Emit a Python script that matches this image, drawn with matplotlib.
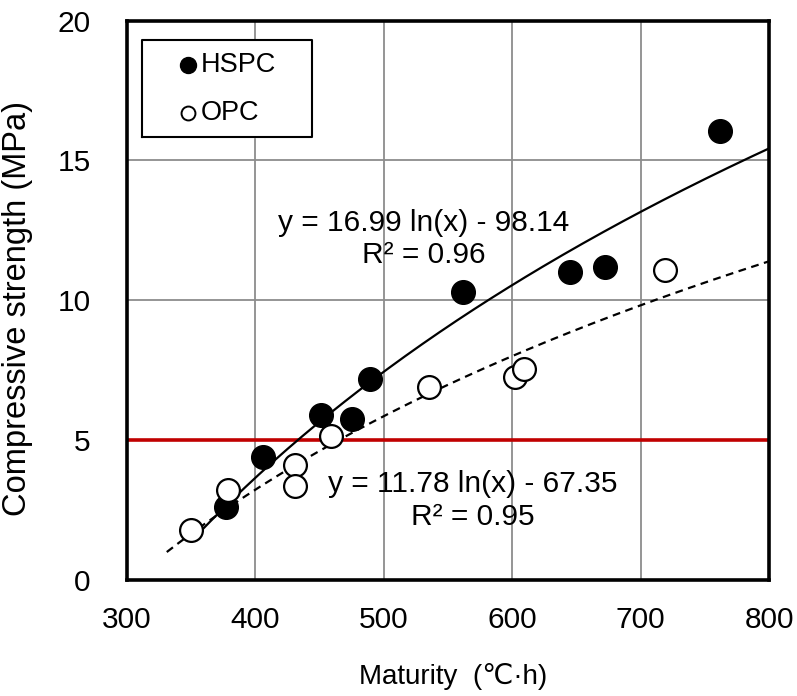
import numpy as np
import matplotlib.pyplot as plt

plt.rcParams['font.family'] = ['Liberation Sans', 'DejaVu Sans']

# Data
hspc_x = [377, 406, 451, 475, 489, 562, 645, 672, 762]
hspc_y = [2.6, 4.4, 5.9, 5.75, 7.2, 10.3, 11.0, 11.2, 16.05]

opc_x = [350, 379, 431, 431, 459, 535, 602, 609, 719]
opc_y = [1.8, 3.2, 4.1, 3.35, 5.15, 6.9, 7.25, 7.55, 11.1]

# Log trend lines (from labels in the chart)
hspc_a, hspc_b = 16.99, -98.14
opc_a, opc_b = 11.78, -67.35
hspc_range = (356, 800)
opc_range = (331, 800)

limit_strength = 5

fig = plt.figure(figsize=(7.97, 6.96), dpi=100)
ax = fig.add_axes([0.1593, 0.1667, 0.8056, 0.8036])

# Trend lines
xs = np.linspace(hspc_range[0], hspc_range[1], 200)
ax.plot(xs, hspc_a * np.log(xs) + hspc_b, color='black', lw=1.6, zorder=3)
xs = np.linspace(opc_range[0], opc_range[1], 200)
ax.plot(xs, opc_a * np.log(xs) + opc_b, color='black', lw=1.6,
        linestyle=(0, (3.5, 2.5)), zorder=3)

# Red reference line
ax.axhline(limit_strength, color='#c00000', lw=2.6, zorder=2)

# Data points
ax.scatter(hspc_x, hspc_y, s=290, color='black', zorder=4)
ax.scatter(opc_x, opc_y, s=270, facecolor='white', edgecolor='black',
           linewidth=1.6, zorder=4)

# Equations
ax.text(531, 12.2, 'y = 16.99 ln(x) - 98.14\nR² = 0.96', ha='center', va='center',
        fontsize=21.5, linespacing=1.2, zorder=5)
ax.text(569, 2.84, 'y = 11.78 ln(x) - 67.35\nR² = 0.95', ha='center', va='center',
        fontsize=21.5, linespacing=1.2, zorder=5)

ax.set_xlim(300, 800)
ax.set_ylim(0, 20)
ax.set_xticks([300, 400, 500, 600, 700, 800])
ax.set_yticks([0, 5, 10, 15, 20])
ax.tick_params(length=0, labelsize=21.5)
ax.tick_params(axis='x', pad=19)
ax.tick_params(axis='y', pad=26)
ax.grid(True, color='#8c8c8c', lw=1.3)
ax.set_axisbelow(True)
for sp in ax.spines.values():
    sp.set_linewidth(2.6)

ax.set_xlabel('Maturity  (℃·h)', fontsize=20)
ax.xaxis.set_label_coords(0.508, -0.148)
ax.set_ylabel('Compressive strength (MPa)', fontsize=23.5)
ax.yaxis.set_label_coords(-0.146, 0.486)

# Legend box drawn in axes coordinates
tr = ax.transAxes
box_x = [0.0234, 0.288, 0.288, 0.0234, 0.0234]
box_y = [0.792, 0.792, 0.9655, 0.9655, 0.792]
ax.plot(box_x, box_y, color='black', lw=1.5, transform=tr, zorder=6, clip_on=False)
ax.fill(box_x, box_y, color='white', transform=tr, zorder=5.5)
ax.plot(0.095, 0.921, 'o', ms=11.5, color='black', transform=tr, zorder=7)
ax.plot(0.095, 0.835, 'o', ms=10, mfc='white', mec='black', mew=1.4,
        transform=tr, zorder=7)
ax.text(0.1153, 0.921, 'HSPC', fontsize=19.5, va='center', transform=tr, zorder=7)
ax.text(0.1153, 0.835, 'OPC', fontsize=19.5, va='center', transform=tr, zorder=7)

fig.savefig('out.png', dpi=100)
